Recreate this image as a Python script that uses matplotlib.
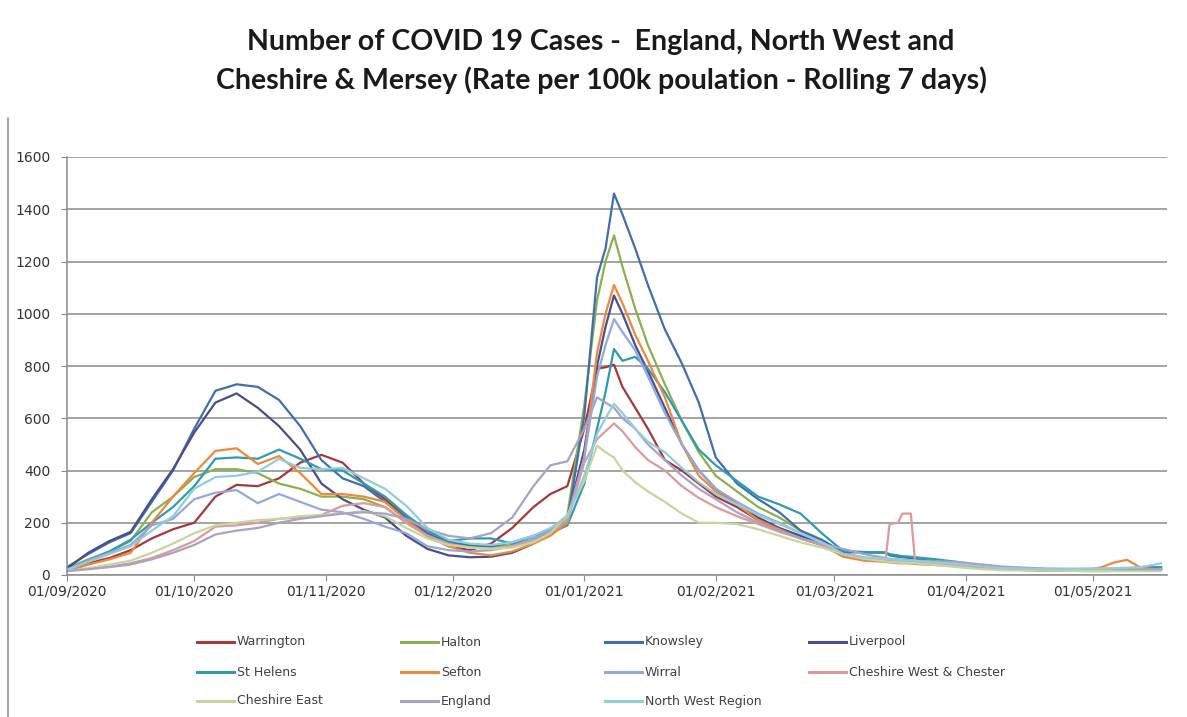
import pandas as pd
import matplotlib
matplotlib.use('Agg')
import matplotlib.pyplot as plt
import matplotlib.dates as mdates
from matplotlib.lines import Line2D

# sample dates for the rolling 7 day rates
dates = ['2020-09-01', '2020-09-06', '2020-09-11', '2020-09-16', '2020-09-21', '2020-09-26',
         '2020-10-01', '2020-10-06', '2020-10-11', '2020-10-16', '2020-10-21', '2020-10-26', '2020-10-31',
         '2020-11-05', '2020-11-10', '2020-11-15', '2020-11-20', '2020-11-25', '2020-11-30',
         '2020-12-05', '2020-12-10', '2020-12-15', '2020-12-20', '2020-12-24', '2020-12-28',
         '2021-01-01', '2021-01-04', '2021-01-06', '2021-01-08', '2021-01-10', '2021-01-13', '2021-01-16',
         '2021-01-20', '2021-01-24', '2021-01-28',
         '2021-02-01', '2021-02-06', '2021-02-11', '2021-02-16', '2021-02-21', '2021-02-26',
         '2021-03-03', '2021-03-08', '2021-03-13', '2021-03-14', '2021-03-16', '2021-03-17', '2021-03-19',
         '2021-03-20', '2021-03-25', '2021-03-30',
         '2021-04-05', '2021-04-10', '2021-04-15', '2021-04-20', '2021-04-25', '2021-04-30',
         '2021-05-03', '2021-05-06', '2021-05-09', '2021-05-12', '2021-05-15', '2021-05-17']

warrington = [20, 45, 65, 95, 140, 175, 200, 300, 345, 340, 370, 430, 460,
              430, 350, 290, 220, 150, 110, 95, 120, 180, 260, 310, 340,
              560, 790, 795, 805, 720, 640, 560, 440, 400, 350,
              300, 260, 210, 175, 140, 115, 80, 65, 58, 55, 52, 50, 48,
              46, 40, 35, 28, 22, 20, 18, 17, 16, 16, 17, 18, 20, 22, 22]
halton = [25, 60, 90, 130, 240, 300, 375, 405, 405, 390, 350, 330, 300,
          300, 290, 260, 200, 150, 120, 110, 105, 115, 140, 170, 230,
          650, 1050, 1200, 1300, 1180, 1020, 880, 730, 590, 470,
          380, 320, 260, 220, 170, 130, 75, 60, 55, 52, 50, 48, 46,
          45, 40, 35, 28, 22, 20, 18, 16, 15, 15, 16, 18, 18, 20, 20]
knowsley = [30, 80, 125, 160, 280, 400, 560, 705, 730, 720, 670, 570, 440,
            370, 340, 280, 220, 160, 125, 115, 110, 125, 150, 170, 200,
            610, 1140, 1250, 1460, 1380, 1250, 1110, 940, 810, 660,
            450, 350, 290, 240, 170, 135, 88, 86, 85, 75, 70, 68, 65,
            62, 52, 42, 30, 25, 22, 20, 18, 18, 20, 22, 25, 28, 30, 30]
liverpool = [25, 85, 130, 165, 290, 405, 545, 660, 695, 640, 570, 480, 350,
             290, 250, 220, 150, 100, 75, 68, 70, 85, 120, 160, 220,
             480, 800, 950, 1070, 1000, 880, 780, 640, 500, 400,
             330, 270, 220, 180, 150, 120, 85, 65, 55, 55, 52, 52, 50,
             50, 45, 38, 28, 24, 20, 18, 17, 16, 18, 20, 22, 24, 25, 25]
st_helens = [20, 55, 90, 135, 200, 260, 340, 445, 450, 445, 480, 445, 405,
             400, 350, 300, 230, 170, 130, 140, 140, 120, 140, 160, 190,
             350, 560, 700, 865, 820, 835, 790, 700, 590, 480,
             420, 360, 300, 270, 235, 160, 92, 88, 87, 80, 75, 72, 70,
             68, 60, 50, 35, 28, 25, 22, 20, 20, 22, 24, 25, 28, 30, 30]
sefton = [15, 40, 60, 85, 200, 300, 390, 475, 485, 425, 455, 390, 310,
          310, 300, 280, 210, 150, 110, 85, 75, 90, 120, 150, 200,
          450, 850, 1000, 1110, 1040, 920, 820, 680, 500, 380,
          320, 270, 210, 175, 140, 115, 70, 55, 50, 48, 45, 45, 44,
          42, 38, 33, 28, 22, 18, 17, 18, 20, 30, 48, 58, 30, 22, 20]
wirral = [20, 55, 85, 115, 190, 215, 290, 315, 325, 275, 310, 280, 250,
          240, 215, 185, 160, 110, 95, 90, 95, 110, 140, 170, 220,
          450, 760, 880, 980, 930, 860, 760, 620, 500, 400,
          330, 280, 235, 200, 160, 125, 80, 65, 58, 55, 52, 50, 48,
          47, 42, 36, 28, 24, 22, 20, 18, 18, 18, 19, 20, 20, 22, 22]
ches_west = [15, 25, 32, 45, 65, 95, 130, 185, 190, 200, 215, 220, 230,
             265, 275, 260, 200, 150, 120, 105, 100, 110, 130, 160, 210,
             430, 520, 550, 580, 550, 490, 440, 400, 340, 295,
             260, 225, 195, 165, 140, 115, 78, 62, 55, 195, 200, 235, 235,
             55, 45, 38, 28, 22, 20, 18, 18, 18, 18, 18, 20, 22, 22, 22]
ches_east = [15, 25, 40, 55, 85, 120, 160, 190, 200, 210, 215, 225, 230,
             235, 245, 225, 180, 140, 115, 105, 100, 105, 125, 160, 230,
             360, 495, 470, 450, 400, 355, 320, 280, 235, 200,
             200, 195, 175, 150, 125, 105, 80, 62, 52, 50, 48, 47, 46,
             45, 38, 30, 22, 18, 18, 17, 16, 15, 15, 15, 15, 15, 15, 15]
england = [15, 22, 30, 40, 60, 85, 115, 155, 170, 180, 200, 215, 225,
           235, 240, 235, 215, 175, 150, 140, 160, 220, 340, 420, 435,
           560, 680, 660, 640, 600, 560, 500, 440, 380, 330,
           290, 240, 200, 170, 140, 120, 100, 80, 65, 62, 60, 58, 56,
           55, 52, 50, 40, 32, 28, 25, 24, 24, 24, 23, 22, 22, 22, 22]
nw_region = [20, 50, 80, 110, 170, 225, 330, 375, 380, 395, 445, 410, 405,
             410, 370, 330, 265, 180, 135, 120, 115, 125, 150, 180, 220,
             380, 540, 600, 655, 620, 560, 510, 470, 410, 355,
             310, 270, 230, 195, 160, 125, 82, 68, 62, 60, 58, 56, 55,
             54, 48, 42, 32, 26, 24, 22, 22, 24, 25, 26, 28, 30, 38, 45]

names = ['Warrington', 'Halton', 'Knowsley', 'Liverpool', 'St Helens', 'Sefton', 'Wirral',
         'Cheshire West & Chester', 'Cheshire East', 'England', 'North West Region']
series = [warrington, halton, knowsley, liverpool, st_helens, sefton, wirral,
          ches_west, ches_east, england, nw_region]
colours = ['#A5383B', '#8DB04E', '#3F6FAE', '#4A4E8C', '#2F9AB2', '#F0883A', '#94A8D9',
           '#DC9A9B', '#C5D69E', '#A9A2C6', '#92CDDC']

x = pd.to_datetime(dates)

W, H = 1187, 717
fig = plt.figure(figsize=(W / 100, H / 100), dpi=100)
ax = fig.add_axes([67 / W, 1 - 575 / H, 1100 / W, 418 / H])

for vals, c, n in zip(series, colours, names):
    ax.plot(x, vals, color=c, lw=1.6, label=n, solid_joinstyle='round')

ax.set_ylim(0, 1600)
ax.set_yticks(range(0, 1601, 200))
ax.set_xlim(pd.Timestamp('2020-09-01'), pd.Timestamp('2021-05-18 10:00'))
ax.xaxis.set_major_locator(mdates.MonthLocator())
ax.xaxis.set_major_formatter(mdates.DateFormatter('%d/%m/%Y'))

ax.grid(axis='y', color='#8a8a8a', lw=1.1)
ax.set_axisbelow(True)
for s in ['top', 'right']:
    ax.spines[s].set_visible(False)
for s in ['left', 'bottom']:
    ax.spines[s].set_color('#8a8a8a')
    ax.spines[s].set_linewidth(1.1)
ax.tick_params(axis='y', length=4, color='#8a8a8a', pad=8, labelsize=10, labelcolor='#333333')
ax.tick_params(axis='x', length=4, color='#8a8a8a', pad=3, labelsize=10, labelcolor='#333333')

# title, two centred lines
fig.text(601 / W, 1 - 42 / H, 'Number of COVID 19 Cases -  England, North West and',
         ha='center', va='center', fontsize=20.5, fontweight='bold', family='Lato', color='#1a1a1a')
fig.text(601 / W, 1 - 80 / H, 'Cheshire & Mersey (Rate per 100k poulation - Rolling 7 days)',
         ha='center', va='center', fontsize=20.5, fontweight='bold', family='Lato', color='#1a1a1a')

# legend laid out row by row, four per row
col_x = [197, 401, 605, 809]
row_y = [642, 672, 701]
for i, (n, c) in enumerate(zip(names, colours)):
    cx = col_x[i % 4]
    cy = row_y[i // 4]
    fig.add_artist(Line2D([cx / W, (cx + 37) / W], [1 - cy / H, 1 - cy / H],
                          color=c, lw=2.2, transform=fig.transFigure))
    fig.text((cx + 40) / W, 1 - cy / H, n, ha='left', va='center',
             fontsize=9, color='#404040')

# chart area border on the left
fig.add_artist(Line2D([8 / W, 8 / W], [0, 1 - 118 / H], color='#9a9a9a', lw=1.2,
                      transform=fig.transFigure))

fig.savefig('out.png', dpi=100)
